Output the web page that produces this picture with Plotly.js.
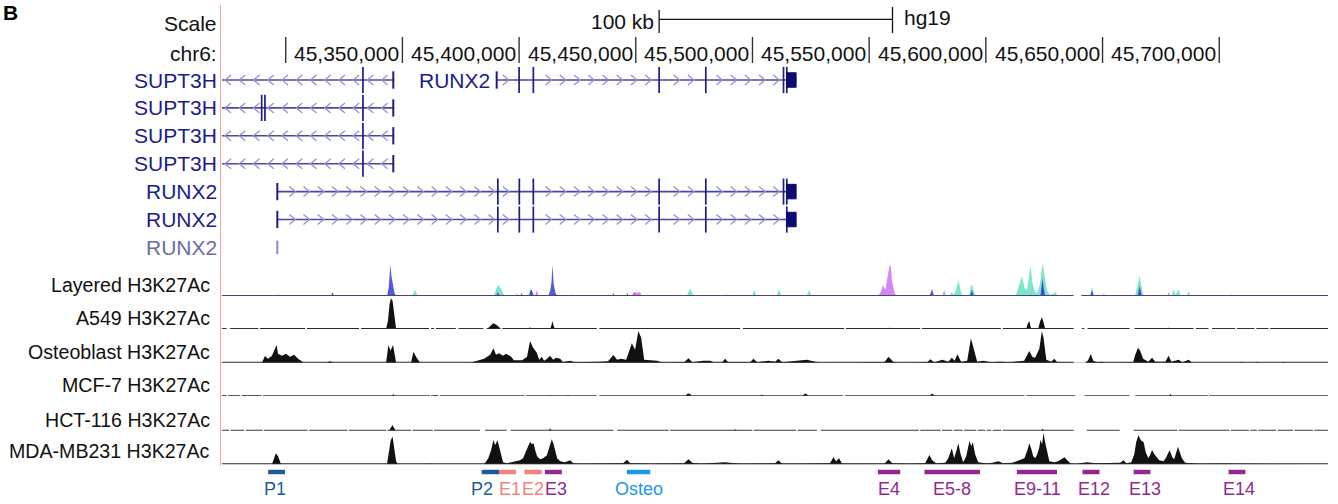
<!DOCTYPE html>
<html><head><meta charset="utf-8">
<script src="https://cdn.plot.ly/plotly-3.0.1.min.js"></script>
<style>html,body{margin:0;padding:0;background:#fff}#chart{width:1338px;height:504px}</style>
</head><body><div id="chart"></div>
<script>
// ---------------- DATA (genomic positions in kb on chr6, hg19) ----------------
const xRangeKb = [45272.7, 45746.6];
const tickKb = [45300, 45350, 45400, 45450, 45500, 45550, 45600, 45650, 45700];
const tickLabels = ['', '45,350,000', '45,400,000', '45,450,000', '45,500,000', '45,550,000', '45,600,000', '45,650,000', '45,700,000'];
const scaleBarKb = [45460, 45560];

// transcripts
const txName   = ['SUPT3H','SUPT3H','SUPT3H','SUPT3H','RUNX2','RUNX2','RUNX2','RUNX2'];
const txRow    = [0, 1, 2, 3, 0, 4, 5, 6];
const txStrand = [-1, -1, -1, -1, 1, 1, 1, 0];
const txStart  = [45260, 45260, 45260, 45260, 45390.4, 45296.4, 45296.4, 45296.4];
const txEnd    = [45346.1, 45346.1, 45346.1, 45346.1, 45518.7, 45518.7, 45518.7, 45296.4];
const txEndTicks = [[45346.1],[45346.1],[45346.1],[45346.1],[45390.4],[45296.4],[45296.4],[45296.4]];
const txExons  = [
  [45333.1],
  [45289.7, 45291.1, 45333.1],
  [45333.1],
  [45333.1],
  [45400.0, 45406.1, 45460.0, 45480.0, 45513.3, 45514.7],
  [45390.9, 45400.1, 45406.1, 45460.0, 45480.0, 45513.3, 45514.7],
  [45390.9, 45400.1, 45406.1, 45460.0, 45480.0, 45514.7],
  []
];
const txBox = [null, null, null, null, [45514.7, 45518.7], [45514.7, 45518.7], [45514.7, 45518.7], null];
const txLabelLeft = [true, true, true, true, false, true, true, true];

// tracks
const trackNames = ['Layered H3K27Ac', 'A549 H3K27Ac', 'Osteoblast H3K27Ac', 'MCF-7 H3K27Ac', 'HCT-116 H3K27Ac', 'MDA-MB231 H3K27Ac'];

const layeredTeal = [
[45295.9,0],[45296.6,2],[45297.3,0],
[45354.1,0],[45355.0,4],[45355.4,6],[45356.0,3],[45356.8,0],
[45388.9,0],[45389.7,3],[45390.3,8],[45391.1,11],[45391.8,9],[45392.6,5],[45393.1,3],[45394.0,0],
[45398.3,0],[45399.0,3],[45399.7,0],
[45403.8,0],[45404.7,6],[45405.3,5],[45406.0,0],
[45421.8,0],[45422.5,2],[45423.2,0],
[45471.8,0],[45472.6,4],[45473.3,7.7],[45474.0,4],[45474.9,0],
[45487.9,0],[45488.6,2],[45489.3,0],
[45499.8,0],[45500.8,6],[45501.7,0],
[45510.3,0],[45511.4,7],[45512.4,0],
[45523.2,0],[45524.3,6],[45525.4,0],
[45584.5,0],[45585.4,4],[45586.2,1],[45587.2,6],[45588.3,16],[45589.2,5],[45590.0,0],
[45592.8,0],[45593.5,9],[45594.0,11.7],[45594.7,6],[45595.6,0],
[45612.8,0],[45614.0,10],[45615.5,20],[45616.6,8],[45617.6,6],[45618.4,18],[45619.1,31],[45619.9,14],[45621.0,4],[45622.0,3],[45623.2,12],[45624.3,32.7],[45625.1,20],[45626.2,5],[45627.5,1],[45628.8,2],[45629.8,4],[45630.7,0],
[45644.5,0],[45645.5,9],[45646.4,0],
[45663.9,0],[45664.9,10],[45665.9,20],[45666.7,9],[45667.6,0],
[45679.6,0],[45680.4,7],[45681.2,1],[45682.0,5],[45682.6,7],[45683.4,0],
[45686.1,0],[45686.9,5],[45687.7,0]
];
const layeredBlue = [
[45319.4,0],[45320.0,4],[45320.7,0],
[45343.4,0],[45344.1,8],[45344.5,25],[45344.9,31.7],[45345.3,20],[45345.8,12],[45346.6,3],[45347.3,0],
[45390.0,0],[45390.9,3],[45391.7,0],
[45400.5,0],[45401.1,3],[45401.7,0],
[45404.4,0],[45405.0,7],[45405.6,5],[45406.4,0],
[45412.5,0],[45413.4,6],[45413.9,14],[45414.3,31.7],[45414.8,12],[45415.6,3],[45416.3,0],
[45439.8,0],[45440.4,3],[45441.0,0],
[45445.8,0],[45446.4,3],[45447.0,0],
[45575.9,0],[45576.9,7],[45577.8,0],
[45593.2,0],[45594.0,6],[45594.8,0],
[45623.4,0],[45624.0,10],[45624.3,18],[45624.8,8],[45625.4,0],
[45644.8,0],[45645.5,6],[45646.2,0],
[45650.0,0],[45650.6,2],[45651.2,0],
[45665.0,0],[45665.9,10],[45666.8,0]
];
const layeredViolet = [
[45390.2,0],[45390.9,5],[45391.6,0],
[45406.9,0],[45407.6,6],[45408.3,0],
[45448.3,0],[45449.0,4],[45450.5,3],[45451.8,4],[45452.5,0],
[45553.5,0],[45554.8,3],[45555.9,11],[45556.9,6],[45557.8,20],[45558.6,29],[45559.2,31],[45559.8,15],[45560.9,3],[45561.8,0],
[45581.4,0],[45582.1,6],[45582.8,0],
[45623.9,0],[45624.3,14],[45624.7,0]
];
const layeredRed = [
[45448.7,0],[45449.3,4],[45449.9,0],
[45677.7,0],[45678.3,4],[45678.9,0],
[45704.8,0],[45705.4,2],[45706.0,0]
];

const a549Signal = [
[45343.0,0],[45343.8,8],[45344.5,25],[45345.1,30.7],[45345.8,28],[45346.4,15],[45347.3,0],
[45386.3,0],[45387.6,3],[45388.9,5.7],[45390.1,4.5],[45391.4,2],[45392.3,0],
[45404.2,0],[45404.7,2],[45405.2,0],
[45413.3,0],[45413.9,4],[45414.3,8],[45414.8,3],[45415.4,0],
[45558.2,0],[45558.7,1.5],[45559.2,0],
[45617.3,0],[45617.9,5],[45618.6,8],[45619.4,0],
[45622.4,0],[45623.3,8],[45624.0,11.7],[45624.8,6],[45625.4,0],
[45677.8,0],[45678.3,1.5],[45678.8,0]
];

const osteoSignal = [
[45289.8,0],[45291.1,6.7],[45292.4,4],[45294.1,7],[45296.1,17.7],[45296.7,9],[45298.4,7],[45300.1,9],[45301.8,6],[45303.6,8],[45305.3,4],[45306.6,2],[45307.8,0],
[45317.3,0],[45319.0,1.5],[45320.7,0],
[45343.0,0],[45344.0,17.7],[45344.9,12],[45346.0,17.7],[45347.3,0],
[45353.7,0],[45354.7,11],[45356.1,5],[45357.6,0],
[45379.0,0],[45382.4,2],[45385.0,4],[45387.6,8],[45389.0,14.4],[45390.1,8],[45391.4,9.4],[45393.1,7],[45394.4,9],[45396.6,6],[45397.8,2.5],[45401.3,2.5],[45403.4,6],[45404.7,21.7],[45406.0,15],[45407.6,10],[45408.6,3],[45409.7,6],[45410.7,2],[45412.0,4],[45413.3,7],[45414.6,3],[45415.8,5],[45417.6,4],[45418.8,0.8],[45421.8,2],[45424.0,0.5],[45434.7,1],[45438.1,1.5],[45440.4,7.7],[45442.0,3],[45443.7,4],[45445.9,3],[45448.3,19.4],[45449.7,13],[45451.1,31.7],[45452.3,25],[45453.6,3],[45456.1,2.5],[45459.1,2],[45461.3,0.3],
[45470.7,0.5],[45472.6,4.5],[45474.2,0.5],[45478.9,2],[45481.9,2],[45483.6,0.3],[45487.0,0.5],[45488.3,4],[45489.6,0.5],[45499.0,0.5],[45500.4,4],[45502.0,0.5],[45506.8,2],[45509.7,1],[45511.1,4],[45512.7,0.5],[45523.3,3],[45526.9,1],[45529.0,0],
[45556.5,0.5],[45558.3,6],[45560.3,1],[45562.1,0],
[45574.9,0.5],[45576.2,3.5],[45577.9,0.5],[45581.4,3],[45583.9,1],[45585.4,5],[45586.6,2],[45587.8,8.4],[45589.4,1],[45592.0,2],[45593.6,24.4],[45595.0,12],[45596.3,1],[45599.0,2],[45601.9,0.5],[45606.1,1],[45610.4,0.5],[45616.4,2],[45618.6,11.7],[45619.9,6],[45621.1,5],[45622.9,14],[45624.0,31.7],[45624.7,25],[45625.9,3],[45628.0,1],[45629.3,4],[45630.6,0.5],[45637.0,0.3],
[null,null],
[45643.0,0.3],[45643.9,3],[45645.0,8.7],[45646.0,2],[45647.7,0.5],[45649.7,1],[45651.6,0],
[45663.1,0.5],[45664.0,8],[45665.2,15],[45666.1,12],[45667.4,4],[45669.6,1],[45671.2,5],[45672.6,1],[45676.9,1],[45678.3,7],[45679.5,1],[45682.6,3],[45684.2,0.5],[45686.9,3],[45688.4,0],
[45709.0,0],[45709.7,1],[45710.4,0],[45715.5,0],[45716.2,1],[45716.9,0],[45726.7,0],[45727.4,1],[45728.1,0]
];

const mcf7Signal = [
[45345.5,0],[45346.1,2],[45346.7,0],
[45412.8,0],[45413.3,1],[45413.8,0],
[45420.5,0],[45421.0,1],[45421.5,0],
[45471.3,0],[45472.0,2],[45472.6,2.5],[45473.3,2],[45474.0,0],
[45503.4,0],[45504.0,1.5],[45504.6,0],
[45521.5,0],[45522.2,2],[45522.6,2.5],[45523.2,2],[45523.9,0],
[45575.9,0],[45576.5,2],[45576.9,2.5],[45577.5,1.5],[45578.1,0],
[45678.5,0],[45679.1,2],[45679.7,0]
];

const hct116Signal = [
[45344.3,0],[45344.9,3],[45345.7,5.7],[45346.4,3],[45347.1,0],
[45412.7,0],[45413.3,2.5],[45413.9,0],
[45492.0,0],[45492.6,1.5],[45493.2,0],
[45623.7,0],[45624.3,2],[45624.9,0]
];

const mdaSignal = [
[45294.1,0],[45295.0,5],[45295.8,11],[45296.7,8],[45298.0,0],
[45343.4,0],[45344.3,12],[45345.0,24],[45345.8,27.6],[45346.4,18],[45347.3,3],[45348.1,0],
[45361.3,0],[45361.8,1],[45362.3,0],
[45385.0,0],[45385.8,3],[45386.8,6],[45388.0,14],[45389.0,24.3],[45389.7,19],[45390.7,24],[45391.4,18],[45392.1,10],[45393.1,2],[45394.8,1],[45397.0,2],[45399.1,3],[45400.4,4],[45401.7,6],[45403.0,14],[45403.8,19],[45404.7,22.6],[45405.5,20],[45406.2,21],[45406.9,14],[45407.7,8],[45409.0,5],[45410.3,6],[45411.9,9],[45412.9,18],[45414.0,25],[45414.8,20],[45415.5,14],[45416.3,6],[45417.6,3],[45419.7,2],[45421.9,4],[45423.2,1],[45426.1,0.5],[45434.7,0.5],[45444.6,1],[45446.2,4.5],[45447.6,1],[45456.1,0.5],[45470.7,1],[45472.6,5],[45474.2,1.5],[45477.6,0.5],[45488.3,2],[45494.7,0.5],[45509.7,1],[45511.1,4],[45512.7,0.5],[45520.4,0.5],[45533.2,1],[45534.7,7],[45535.8,3],[45537.1,6],[45538.4,0.5],[45556.5,0.5],[45558.3,5],[45559.9,1],[45567.6,0.5],
[45574.0,1],[45575.8,9.3],[45577.0,4],[45578.7,1],[45582.6,1.5],[45583.9,6],[45585.4,16],[45586.4,6],[45587.2,12],[45588.2,21],[45589.2,10],[45590.3,2],[45591.6,8],[45593.0,23.6],[45593.7,18],[45594.4,22],[45595.4,10],[45596.7,2],[45599.7,1],[45601.8,1],[45605.4,3],[45607.4,1],[45611.3,1.5],[45613.4,3],[45615.2,5],[45616.5,6],[45617.8,14],[45618.6,21],[45619.5,15],[45620.3,8],[45621.2,6],[45622.0,10],[45622.9,17],[45623.4,24.3],[45624.1,20],[45624.7,31.6],[45625.4,22],[45626.2,12],[45627.2,3],[45629.3,2],[45631.0,3],[45632.3,5],[45633.7,7],[45634.9,4],[45636.2,1],[45638.4,0.3],[45643.3,2],[45646.9,1],[45653.3,1.5],[45657.6,1.5],[45659.0,4],[45660.2,1],[45662.3,2],[45663.6,10],[45664.4,22],[45665.4,29],[45666.4,24],[45667.6,22],[45668.5,12],[45669.6,6],[45670.5,10],[45671.2,14.3],[45672.2,10],[45673.0,8],[45674.3,4],[45676.1,3],[45677.3,7],[45678.7,14],[45679.9,7],[45680.7,5],[45681.6,12],[45682.3,17.6],[45683.1,12],[45684.0,6],[45685.4,1.5],[45687.6,1],[45691.9,0.5],[45700.5,0.7],[45709.0,0.5],[45717.6,0.7],[45726.2,0.5],[45734.7,0.6],[45746.3,0]
];

// missing-data gaps in each track's baseline [startKb, endKb]
const layeredGaps = [[45637.6, 45640.9]];
const a549Gaps = [[45274.7,45276.1],[45288.3,45289.0],[45308.3,45309.1],[45331.4,45332.3],[45361.4,45362.3],[45363.6,45364.4],[45372.9,45374.0],[45384.7,45386.1],[45391.8,45392.8],[45433.3,45434.4],[45494.7,45495.9],[45539.3,45540.1],[45571.9,45572.6],[45606.4,45607.3],[45637.6,45641.2],[45642.2,45643.6],[45661.6,45663.7],[45689.0,45690.0],[45695.4,45696.9],[45706.9,45707.6],[45715.1,45715.9],[45721.1,45721.8]];
const osteoGaps = [[45637.6, 45642.6]];
const mcf7Gaps = [[45274.7,45275.3],[45280.4,45281.0],[45289.7,45290.3],[45361.8,45362.4],[45365.5,45366.1],[45402.3,45402.9],[45433.3,45434.4],[45538.9,45539.7],[45616.6,45617.2],[45638.3,45642.2],[45661.6,45664.1],[45695.1,45695.7]];
const hct116Gaps = [[45275.8,45276.4],[45282.3,45282.9],[45290.1,45290.7],[45309.4,45310.0],[45326.5,45327.1],[45343.0,45343.6],[45353.7,45354.3],[45363.0,45363.6],[45383.3,45385.4],[45394.7,45396.4],[45440.4,45442.1],[45464.1,45464.7],[45499.9,45500.5],[45518.7,45519.3],[45527.6,45529.3],[45571.3,45571.9],[45580.6,45581.2],[45585.6,45586.2],[45590.1,45590.7],[45595.9,45596.5],[45599.8,45600.4],[45602.3,45602.9],[45606.6,45607.2],[45637.6,45643.3],[45657.3,45663.3],[45682.0,45682.6],[45704.4,45705.0],[45712.7,45713.3],[45716.1,45716.7],[45724.4,45725.0],[45731.6,45732.2],[45740.1,45740.7]];
const mdaGaps = [];

// annotated regulatory elements
const featureNames  = ['P1','P2','E1','E2','E3','Osteo','E4','E5-8','E9-11','E12','E13','E14'];
const featureClass  = ['promoter','promoter','enhA','enhA','enh','osteo','enh','enh','enh','enh','enh','enh'];
const featureStart  = [45292.5,45384.0,45391.4,45402.3,45411.1,45446.2,45553.7,45573.7,45613.3,45641.4,45663.3,45704.0];
const featureEnd    = [45299.7,45391.4,45398.7,45409.7,45418.3,45456.2,45563.3,45597.5,45630.5,45648.7,45670.5,45711.2];
const featureLabelX = [45295.4,45384.3,45395.9,45405.9,45415.9,45451.3,45558.6,45585.6,45622.3,45646.4,45668.2,45708.6];

// ---------------- LAYOUT HELPERS ----------------
const W = 1338, H = 504, PL = 222, PR = 1328;
const FONT = '"Liberation Sans", Arial, Helvetica, sans-serif';
const py = p => 1 - p / H;                    // pixel row -> paper y
const pxp = p => (p - PL) / (PR - PL);        // pixel col -> paper x
const ROW0 = 80, ROWSTEP = 27.9;
const rowAt = p => (p - ROW0) / ROWSTEP;      // pixel row -> gene-row units
const KB_PER_PX = (xRangeKb[1] - xRangeKb[0]) / (PR - PL);

const baselinePx = [296, 329, 362.7, 396, 430.7, 464.3];
const trackLabelPx = [285, 318.3, 351.7, 385, 420, 451];
const TRACK_H = 33, SIGNAL_MAX = 33;
const HEAD_FS = 21, TRACK_FS = 19.6, FEAT_FS = 18;

const geneNavy = '#1c1c88', geneLine = '#4848a2', chevCol = '#9292d2';
const classColor = {promoter:'#1d5c98', enhA:'#f3827b', enh:'#93288f', osteo:'#1a98ec'};

const traces = [];
const ann = [];

// ---------- scale & ruler ----------
traces.push({x:[scaleBarKb[0], scaleBarKb[1]], y:[rowAt(19.3), rowAt(19.3)], mode:'lines',
  line:{color:'#111', width:1.2}, xaxis:'x', yaxis:'y', hoverinfo:'skip', cliponaxis:false});
traces.push({x:[scaleBarKb[0], scaleBarKb[0], null, scaleBarKb[1], scaleBarKb[1]],
  y:[rowAt(10), rowAt(33), null, rowAt(7), rowAt(33)], mode:'lines',
  line:{color:'#111', width:1.3}, xaxis:'x', yaxis:'y', hoverinfo:'skip', cliponaxis:false});
{
  const tx = [], ty = [];
  tickKb.forEach(k => { tx.push(k, k, null); ty.push(rowAt(37), rowAt(63), null); });
  traces.push({x:tx, y:ty, mode:'lines', line:{color:'#333', width:1.4}, xaxis:'x', yaxis:'y', hoverinfo:'skip', cliponaxis:false});
  tickKb.forEach((k, i) => {
    if (!tickLabels[i]) return;
    ann.push({x:k, y:rowAt(53), xref:'x', yref:'y', text:tickLabels[i], showarrow:false,
      xanchor:'right', yanchor:'middle', xshift:-1, font:{family:FONT, size:HEAD_FS, color:'#111'}});
  });
}
ann.push({x:scaleBarKb[0], y:rowAt(21.5), xref:'x', yref:'y', text:'100 kb', showarrow:false,
  xanchor:'right', yanchor:'middle', xshift:-3, font:{family:FONT, size:HEAD_FS, color:'#111'}});
ann.push({x:scaleBarKb[1], y:rowAt(17), xref:'x', yref:'y', text:'hg19', showarrow:false,
  xanchor:'left', yanchor:'middle', xshift:9, font:{family:FONT, size:HEAD_FS, color:'#111'}});
ann.push({x:pxp(218.5), y:rowAt(23), xref:'paper', yref:'y', text:'Scale', showarrow:false,
  xanchor:'right', yanchor:'middle', font:{family:FONT, size:HEAD_FS, color:'#111'}});
ann.push({x:pxp(218.5), y:rowAt(53), xref:'paper', yref:'y', text:'chr6:', showarrow:false,
  xanchor:'right', yanchor:'middle', font:{family:FONT, size:HEAD_FS, color:'#111'}});
ann.push({x:pxp(2), y:1, xref:'paper', yref:'paper', text:'<b>B</b>', showarrow:false,
  xanchor:'left', yanchor:'top', borderpad:0, font:{family:FONT, size:21, color:'#000'}});

// ---------- genes ----------
{
  const lx = [], ly = [], ex = [], ey = [], tx = [], ty = [], fx = [], fy = [], cx = [], cy = [], bx = [], by = [];
  const CH_STEP = 6.1, CH_HALFW = 3 * KB_PER_PX, CH_HALFH = 5 / ROWSTEP, TOL = 5 * KB_PER_PX;
  const anchor = {SUPT3H: 45275.3, RUNX2: 45412.6};
  txName.forEach((nm, i) => {
    const r = txRow[i];
    if (txStrand[i] === 0) {
      txEndTicks[i].forEach(k => { fx.push(k, k, null); fy.push(r - 0.24, r + 0.24, null); });
    } else {
      lx.push(txStart[i], txEnd[i], null); ly.push(r, r, null);
      txExons[i].forEach(k => { ex.push(k, k, null); ey.push(r - 0.47, r + 0.47, null); });
      txEndTicks[i].forEach(k => { tx.push(k, k, null); ty.push(r - 0.31, r + 0.31, null); });
      if (txBox[i]) { const b = txBox[i]; bx.push(b[0], b[1], b[1], b[0], b[0], null); by.push(r - 0.26, r - 0.26, r + 0.26, r + 0.26, r - 0.26, null); }
      // strand chevrons along introns (UCSC style decoration)
      const marks = txExons[i].concat(txEndTicks[i]);
      const a = anchor[nm];
      const k0 = Math.floor((txStart[i] - a) / CH_STEP), k1 = Math.ceil((txEnd[i] - a) / CH_STEP);
      for (let k = k0; k <= k1; k++) {
        const c = a + k * CH_STEP;
        if (c < txStart[i] + TOL || c > txEnd[i] - TOL) continue;
        if (marks.some(m => Math.abs(m - c) < TOL)) continue;
        const s = txStrand[i];
        cx.push(c - s * CH_HALFW, c + s * CH_HALFW, c - s * CH_HALFW, null);
        cy.push(r - CH_HALFH, r, r + CH_HALFH, null);
      }
    }
    // labels
    const lblColor = txStrand[i] === 0 ? '#6d6d9d' : geneNavy;
    if (txLabelLeft[i]) {
      ann.push({x:pxp(218.5), y:r, xref:'paper', yref:'y', text:nm, showarrow:false, xanchor:'right', yanchor:'middle',
        font:{family:FONT, size:HEAD_FS, color:lblColor}});
    } else {
      ann.push({x:txStart[i], y:r, xref:'x', yref:'y', text:nm, showarrow:false, xanchor:'right', yanchor:'middle', xshift:-5,
        font:{family:FONT, size:HEAD_FS, color:lblColor}});
    }
  });
  traces.push({x:lx, y:ly, mode:'lines', line:{color:geneLine, width:1.6}, xaxis:'x', yaxis:'y', hoverinfo:'skip'});
  traces.push({x:cx, y:cy, mode:'lines', line:{color:chevCol, width:1.3}, xaxis:'x', yaxis:'y', hoverinfo:'skip'});
  traces.push({x:ex, y:ey, mode:'lines', line:{color:geneNavy, width:1.7}, xaxis:'x', yaxis:'y', hoverinfo:'skip'});
  traces.push({x:tx, y:ty, mode:'lines', line:{color:geneNavy, width:2}, xaxis:'x', yaxis:'y', hoverinfo:'skip'});
  traces.push({x:fx, y:fy, mode:'lines', line:{color:'#8a8ac6', width:2}, xaxis:'x', yaxis:'y', hoverinfo:'skip'});
  traces.push({x:bx, y:by, mode:'lines', fill:'toself', fillcolor:'#0b0b72', line:{color:'#0b0b72', width:1}, xaxis:'x', yaxis:'y', hoverinfo:'skip'});
}

// ---------- signal tracks ----------
function sig(pairs, axis, color) {
  return {x:pairs.map(p => p[0]), y:pairs.map(p => p[1]), mode:'lines', fill:'tozeroy', fillcolor:color,
    line:{width:0, color:color}, xaxis:'x', yaxis:axis, hoverinfo:'skip', cliponaxis:false, connectgaps:false};
}
function baseline(gaps, axis, color, width) {
  const xs = [xRangeKb[0]], ys = [0];
  gaps.forEach(g => { xs.push(g[0], null, g[1]); ys.push(0, null, 0); });
  xs.push(xRangeKb[1]); ys.push(0);
  return {x:xs, y:ys, mode:'lines', line:{color:color, width:width}, xaxis:'x', yaxis:axis, hoverinfo:'skip', cliponaxis:false};
}
traces.push(sig(layeredTeal, 'y2', 'rgba(70,220,185,0.72)'));
traces.push(sig(layeredViolet, 'y2', 'rgba(195,95,240,0.75)'));
traces.push(sig(layeredBlue, 'y2', 'rgba(45,45,210,0.8)'));
traces.push(sig(layeredRed, 'y2', 'rgba(240,95,95,0.75)'));
traces.push(baseline(layeredGaps, 'y2', '#4e426c', 1.9));
traces.push(sig(a549Signal, 'y3', '#111'));
traces.push(baseline(a549Gaps, 'y3', '#2a2a2a', 1.9));
traces.push(sig(osteoSignal, 'y4', '#111'));
traces.push(baseline(osteoGaps, 'y4', '#2a2a2a', 1.9));
traces.push(sig(mcf7Signal, 'y5', '#111'));
traces.push(baseline(mcf7Gaps, 'y5', '#3a3a3a', 1.7));
traces.push(sig(hct116Signal, 'y6', '#111'));
traces.push(baseline(hct116Gaps, 'y6', '#3a3a3a', 1.7));
traces.push(sig(mdaSignal, 'y7', '#111'));
traces.push(baseline(mdaGaps, 'y7', '#2a2a2a', 1.9));

trackNames.forEach((t, i) => {
  ann.push({x:pxp(212), y:py(trackLabelPx[i]), xref:'paper', yref:'paper', text:t, showarrow:false,
    xanchor:'right', yanchor:'middle', font:{family:FONT, size:TRACK_FS, color:'#111'}});
});

// ---------- regulatory elements ----------
featureNames.forEach((f, i) => {
  const col = classColor[featureClass[i]];
  traces.push({x:[featureStart[i], featureEnd[i]], y:[0.5, 0.5], mode:'lines', line:{color:col, width:4.5},
    xaxis:'x', yaxis:'y8', hoverinfo:'skip', cliponaxis:false});
  ann.push({x:featureLabelX[i], y:py(488.5), xref:'x', yref:'paper', text:f, showarrow:false,
    xanchor:'center', yanchor:'middle', font:{family:FONT, size:FEAT_FS, color:col}});
});

// ---------- axes ----------
const layout = {
  width:W, height:H, margin:{l:PL, r:W - PR, t:0, b:0, pad:0},
  paper_bgcolor:'#ffffff', plot_bgcolor:'rgba(0,0,0,0)', showlegend:false, dragmode:false,
  xaxis:{range:xRangeKb, visible:false, fixedrange:true},
  yaxis:{domain:[py(262), 1], range:[rowAt(262), rowAt(0)], visible:false, fixedrange:true},
  annotations:ann,
  shapes:[{type:'line', xref:'paper', yref:'paper', x0:pxp(220.5), x1:pxp(220.5), y0:py(5), y1:py(466),
    line:{color:'#f6a7a7', width:1}}]
};
baselinePx.forEach((b, i) => {
  layout['yaxis' + (i + 2)] = {domain:[py(b), py(b - TRACK_H)], range:[0, SIGNAL_MAX], visible:false, anchor:'x', fixedrange:true};
});
layout.yaxis8 = {domain:[py(478), py(466)], range:[0, 1], visible:false, anchor:'x', fixedrange:true};

Plotly.newPlot('chart', traces, layout, {staticPlot:true, displayModeBar:false});
</script></body></html>
